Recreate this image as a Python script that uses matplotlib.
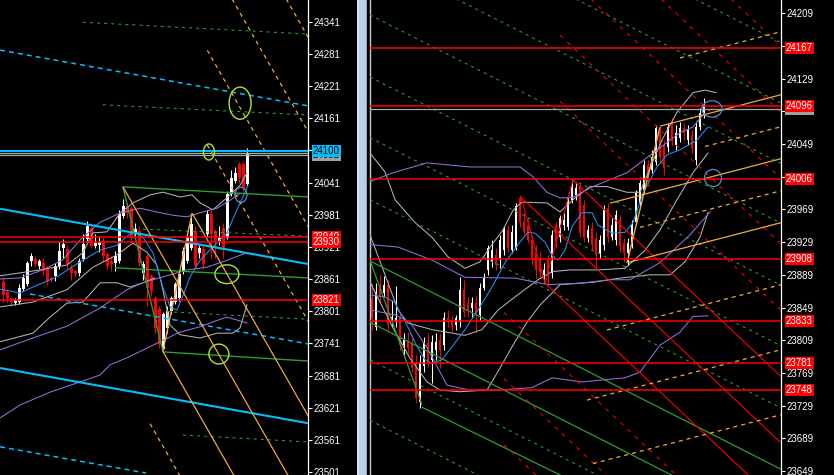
import numpy as np
import matplotlib
matplotlib.use("Agg")
import matplotlib.pyplot as plt
import matplotlib.transforms as mtransforms
from matplotlib.patches import Ellipse, Rectangle

plt.rcParams['font.family'] = ['Liberation Sans', 'DejaVu Sans']
plt.rcParams['lines.scale_dashes'] = False

# ======================= LEFT PANEL DATA =======================
left_open = [23855, 23836, 23825, 23817, 23819, 23842, 23851, 23894, 23898, 23885,
             23891, 23880, 23863, 23866, 23885, 23919, 23917, 23881, 23876, 23872,
             23898, 23936, 23956, 23923, 23924, 23932, 23908, 23894, 23891, 23894,
             23979, 23998, 23994, 23947, 23951, 23872, 23904, 23866, 23825, 23806,
             23731, 23769, 23801, 23819, 23825, 23876, 23894, 23919, 23951, 23909,
             23917, 23945, 23983, 23951, 23932, 23956, 23938, 24020, 24044, 24076,
             24076, 24039]
left_close = [23831, 23825, 23819, 23821, 23844, 23863, 23891, 23904, 23889, 23894,
              23876, 23857, 23859, 23885, 23913, 23926, 23889, 23872, 23870, 23894,
              23926, 23960, 23923, 23928, 23930, 23904, 23885, 23889, 23904, 23983,
              23998, 23984, 23938, 23955, 23891, 23889, 23844, 23838, 23769, 23739,
              23795, 23801, 23825, 23851, 23870, 23913, 23938, 23964, 23885, 23919,
              23889, 23983, 23945, 23932, 23938, 23919, 24020, 24050, 24058, 24050,
              24031, 24095]
left_high = [23865, 23843, 23827, 23825, 23851, 23870, 23894, 23909, 23904, 23898,
             23900, 23885, 23866, 23891, 23930, 23936, 23923, 23889, 23880, 23900,
             23945, 23970, 23965, 23945, 23940, 23940, 23912, 23904, 23913, 23990,
             24010, 24000, 23998, 23965, 23960, 23895, 23908, 23870, 23830, 23810,
             23800, 23810, 23830, 23855, 23875, 23920, 23945, 23983, 23960, 23925,
             23925, 23990, 23990, 23955, 23960, 23965, 24025, 24065, 24070, 24080,
             24080, 24106]
left_low = [23819, 23819, 23810, 23812, 23815, 23838, 23848, 23885, 23885, 23880,
            23866, 23850, 23855, 23857, 23880, 23900, 23880, 23860, 23866, 23866,
            23894, 23932, 23918, 23918, 23912, 23895, 23880, 23876, 23876, 23890,
            23975, 23975, 23930, 23935, 23885, 23860, 23810, 23830, 23760, 23733,
            23726, 23760, 23795, 23815, 23820, 23870, 23890, 23915, 23880, 23900,
            23880, 23940, 23900, 23900, 23925, 23900, 23935, 24015, 24040, 24040,
            24025, 24035]

left_ticks = [23501, 23561, 23621, 23681, 23741, 23801, 23861, 23921, 23981,
              24041, 24101, 24161, 24221, 24281, 24341]
left_cyan_level = 24100
left_gray_levels = [24096, 24092]
left_red_levels = [23940, 23930, 23821]

# indicator curves (bar index, price)
L_blue_i = [-0.8, 4.2, 7.4, 13.4, 19.2, 24.2, 28.4, 30.4, 32.4, 34.9, 37.4, 39.9, 41.7,
            43.4, 44.7, 46.7, 49.2, 52.4, 55.9, 58.4, 59.9, 61.2]
L_blue_p = [23842, 23835, 23846, 23865, 23893, 23915, 23924, 23937, 23949, 23939, 23910,
            23846, 23809, 23803, 23826, 23865, 23896, 23921, 23947, 23990, 24014, 24036]
L_purple1_i = [-0.8, 4.2, 9.9, 14.9, 19.2, 24.2, 29.2, 34.2, 38.4, 42.4, 45.9, 49.9, 53.4, 56.7, 59.2]
L_purple1_p = [23861, 23863, 23878, 23897, 23934, 23967, 23984, 23993, 23986, 23980, 23977,
               23986, 23993, 24008, 24021]
L_purple2_i = [-0.8, 7.4, 15.9, 24.2, 30.9, 34.9, 39.9, 45.9, 50.9, 55.9, 60.9]
L_purple2_p = [23729, 23751, 23773, 23807, 23841, 23854, 23865, 23878, 23883, 23896, 23910]
L_purple3_i = [-0.8, 4.2, 11.7, 19.2, 24.2, 26.7, 30.9, 35.9, 39.2, 44.2, 49.2, 52.4, 55.9, 60.9]
L_purple3_p = [23602, 23626, 23650, 23669, 23682, 23701, 23714, 23732, 23744, 23762, 23772,
               23781, 23790, 23779]
L_gray_up_i = [-0.8, 9.2, 15.9, 19.9, 22.4, 25.9, 29.2, 32.4, 36.7, 39.9, 44.2, 47.2, 49.2,
               52.4, 56.7, 59.2, 60.9]
L_gray_up_p = [23867, 23878, 23887, 23910, 23947, 23949, 23984, 24003, 24018, 24023, 24014,
               24018, 24003, 23990, 24018, 24036, 24059]
L_gray_lo_i = [-0.8, 7.4, 15.9, 22.4, 28.4, 32.4, 35.9, 38.4, 39.9, 41.7, 44.2, 49.2, 53.4,
               57.4, 59.2, 60.9]
L_gray_lo_p = [23809, 23818, 23841, 23883, 23906, 23928, 23911, 23887, 23841, 23775, 23757,
               23751, 23760, 23760, 23770, 23813]
L_gray_out_i = [-0.8, 7.4, 11.7, 15.9, 19.9, 24.2, 28.4, 31.7, 34.9, 37.9]
L_gray_out_p = [23744, 23760, 23790, 23816, 23818, 23854, 23854, 23846, 23854, 23863]

# trend objects: (i0, p0, i1, p1)
L_cyan_solid = [(-0.8, 23992, 76.2, 23889), (-0.8, 23695, 76.2, 23592)]
L_cyan_dash = [(-0.8, 24288, 76.2, 24184), (6.7, 23833, 76.2, 23740), (-0.8, 23548, 35.7, 23499)]
L_green_dash = [(19.9, 24340, 76.2, 24318), (24.9, 24186, 76.2, 24167),
                (34.9, 23954, 76.2, 23941), (40.9, 23800, 76.2, 23786),
                (44.9, 23570, 76.2, 23557)]
L_green_solid = [(29.9, 24033, 76.2, 24014), (27.9, 23882, 76.2, 23863),
                 (39.9, 23725, 76.2, 23708)]
# pitchfork pivots A (high), B (low), C (high)
pf_i = [29.9, 39.9, 47.2]
pf_p = [24033, 23726, 23984]
pf_solid_k = [-1, 0, 1]
pf_dash_k = [-2, 2, 3, 4, 5]
# ellipses (center i, center p, width bars, height price)
L_lime_ell = [(59.2, 24189, 5.5, 60), (51.4, 24098, 2.75, 30), (55.9, 23870, 6.0, 35),
              (53.9, 23721, 5.0, 37)]
L_blue_ell = [(59.4, 24018, 3.0, 28)]

# ======================= RIGHT PANEL DATA =======================
right_open = [23860, 23825, 23873, 23867, 23877, 23831, 23831, 23838, 23803, 23807,
              23806, 23782, 23733, 23777, 23806, 23785, 23797, 23809, 23803, 23836,
              23834, 23828, 23831, 23870, 23855, 23848, 23855, 23840, 23873, 23895,
              23905, 23913, 23910, 23919, 23944, 23919, 23922, 23983, 23954, 23950,
              23932, 23917, 23910, 23889, 23907, 23891, 23950, 23935, 23950, 23948,
              23981, 23987, 23997, 23974, 23934, 23946, 23934, 23916, 23926, 23971,
              23935, 23932, 23956, 23928, 23916, 23926, 23954, 23977, 23993, 24023,
              24017, 24027, 24064, 24048, 24045, 24075, 24048, 24056, 24069, 24054,
              24060, 24029, 24070, 24085]
right_close = [23836, 23868, 23862, 23877, 23828, 23838, 23836, 23803, 23809, 23800,
               23775, 23738, 23782, 23806, 23782, 23807, 23807, 23797, 23836, 23831,
               23825, 23836, 23870, 23844, 23846, 23855, 23842, 23873, 23885, 23922,
               23919, 23901, 23932, 23946, 23922, 23941, 23973, 23954, 23941, 23932,
               23910, 23895, 23893, 23895, 23888, 23938, 23929, 23959, 23956, 23983,
               23999, 23995, 23940, 23934, 23944, 23926, 23913, 23932, 23968, 23935,
               23950, 23962, 23923, 23916, 23928, 23950, 23989, 24001, 24023, 24008,
               24033, 24069, 24033, 24020, 24070, 24054, 24063, 24069, 24063, 24066,
               24044, 24070, 24087, 24096]
right_high = [23879, 23879, 23889, 23888, 23883, 23858, 23875, 23844, 23818, 23819,
              23815, 23791, 23791, 23813, 23818, 23815, 23818, 23818, 23844, 23846,
              23840, 23840, 23886, 23883, 23862, 23862, 23864, 23879, 23891, 23926,
              23932, 23922, 23938, 23949, 23950, 23950, 23977, 23987, 23965, 23958,
              23938, 23926, 23917, 23904, 23913, 23944, 23954, 23962, 23965, 23987,
              24005, 24003, 24001, 23981, 23950, 23954, 23941, 23938, 23975, 23977,
              23958, 23968, 23962, 23934, 23934, 23956, 23993, 24005, 24030, 24030,
              24042, 24072, 24069, 24054, 24075, 24081, 24072, 24076, 24075, 24072,
              24066, 24076, 24093, 24105]
right_low = [23822, 23822, 23855, 23862, 23822, 23825, 23825, 23797, 23789, 23793,
             23770, 23732, 23726, 23770, 23776, 23757, 23785, 23775, 23797, 23825,
             23819, 23822, 23825, 23838, 23838, 23838, 23819, 23834, 23870, 23889,
             23899, 23895, 23897, 23913, 23917, 23916, 23919, 23948, 23938, 23928,
             23901, 23885, 23886, 23879, 23877, 23885, 23922, 23929, 23944, 23944,
             23977, 23981, 23935, 23929, 23929, 23919, 23897, 23910, 23919, 23929,
             23932, 23926, 23917, 23905, 23901, 23922, 23950, 23973, 23989, 24003,
             24014, 24023, 24027, 24011, 24039, 24048, 24042, 24052, 24054, 24048,
             24038, 24023, 24066, 24081]

right_ticks = [23649, 23689, 23729, 23769, 23809, 23849, 23889, 23929, 23969,
               24009, 24049, 24089, 24129, 24169, 24209]
right_red_levels = [24167, 24096, 24006, 23908, 23833, 23781, 23748]
right_gray_level = 24092

R_blue_i = [0, 3.25, 5.75, 9, 10.75, 13.25, 15, 17.5, 20.75, 23.25, 26.5, 30, 33.25, 36.5,
            39, 40.75, 43.25, 45, 46.5, 48.25, 50, 52.5, 55, 56.5, 60, 63.25, 65.25, 67.75,
            71.25, 73.75, 77, 81.25, 84]
R_blue_p = [23864, 23862, 23855, 23825, 23806, 23785, 23781, 23785, 23806, 23822, 23846,
            23874, 23904, 23926, 23941, 23940, 23929, 23913, 23907, 23919, 23948, 23965,
            23965, 23950, 23940, 23941, 23953, 23989, 24021, 24036, 24042, 24054, 24070]
R_purple1_i = [-0.5, 5.25, 13.75, 24.5, 37, 40.25, 43.75, 47, 50.25, 55.25, 63.75, 70.25,
               77, 80.25, 82.75]
R_purple1_p = [24003, 24014, 24026, 24021, 24021, 24009, 23990, 23983, 23984, 23997, 24014,
               24038, 24063, 24070, 24085]
R_purple2_i = [-0.5, 6.5, 15, 23.25, 35.75, 44, 52.5, 59.5, 64.5, 72, 79.5, 84.5]
R_purple2_p = [23926, 23923, 23907, 23886, 23885, 23877, 23879, 23883, 23883, 23904, 23938, 23966]
R_purple3_i = [-0.5, 5.75, 9.5, 13.75, 18.75, 24.5, 31.5, 40, 45, 52.5, 63.25, 67, 72, 77,
               80.25, 84]
R_purple3_p = [23846, 23840, 23831, 23800, 23754, 23748, 23748, 23751, 23763, 23758, 23763,
               23770, 23803, 23819, 23838, 23839]
R_gray_up_i = [-0.5, 3.25, 5.75, 10.75, 15, 19, 23.25, 27, 30, 32.75, 35.25, 37.5, 43.75, 47,
               50.75, 54.5, 58.75, 63.75, 67, 69.5, 72.5, 76.25, 80.25, 83.25, 86]
R_gray_up_p = [24038, 24015, 23981, 23953, 23935, 23911, 23897, 23905, 23926, 23944, 23968,
               23978, 23977, 23966, 23983, 23997, 23997, 23990, 23990, 24020, 24054, 24088,
               24112, 24115, 24112]
R_gray_lo_i = [-0.5, 2.5, 6.5, 9, 15, 23.25, 27.5, 31.5, 35.75, 41.5, 45, 49.5, 56.5, 63.25,
               68.25, 72, 76.25, 80.25, 84]
R_gray_lo_p = [23938, 23899, 23846, 23830, 23822, 23815, 23822, 23846, 23862, 23883, 23893,
               23895, 23895, 23897, 23919, 23944, 23981, 24014, 24038]
R_gray_out_i = [-0.5, 5.25, 9.5, 13.75, 17, 22, 28.75, 32, 35.25, 38.75, 42, 45.25, 47, 55.25,
                62, 69.5, 74.5, 78.25, 82, 84]
R_gray_out_p = [23880, 23824, 23787, 23758, 23748, 23746, 23748, 23775, 23803, 23831, 23852,
                23868, 23877, 23880, 23885, 23889, 23889, 23905, 23935, 23965]

# green descending fan: price at left edge (i = -0.5), common slope per bar
green_fan_slope = -2.48
green_fan_dash_p0 = [24428, 24354, 24280, 24207, 24131, 24057, 23981, 23785, 23711]
green_fan_solid_p0 = [23906, 23831]
R_green_solid = [(-0.5, 23907, 12.5, 23730), (12.5, 23727, 60, 23613)]
# red descending channel: common slope per bar
red_slope = -4.625
red_anchor_i = [37.25, 50.25, 43.25]
red_anchor_p = [23984, 24005, 23879]
red_dash_upper_p0 = [24644, 24563, 24482, 24402, 24321]
red_dash_lower_p0 = [23998, 23917, 23836, 23756]
# orange ascending lines: price at right edge (i = 102) and start bar
orange_slope = 1.272
orange_solid = [(23952.5, 63.75), (24109.1, 72), (24030.8, 59.5)]
orange_dash = [(24186.2, 77), (24069.9, 83.25), (23991.6, 67), (23876.6, 58.75),
               (23797.1, 53.75), (23717.5, 55.25)]
orange_zig_i = [63.75, 72]
orange_zig_p = [23903.5, 24070]
R_blue_ell = [(85, 24092, 5.0, 20), (85.25, 24007.5, 4.25, 21)]

# ======================= STYLE =======================
RED = "#FF0000"; CYAN = "#00BFFF"; GREEN = "#2E9E2E"; LIME = "#A8E632"
ORANGE = "#F2A93B"; PURPLE = "#9370DB"; GRAY = "#B4B4B4"; BLUE = "#1E90FF"; STEEL = "#4F8FC8"
DOT_G = (0, (2.2, 2.9)); DOT_R = (0, (2.9, 4.3)); DOT_O = (0, (2.9, 2.9)); DOT_C = (0, (3.6, 2.9))
THIN = 0.75

W, H = 834, 475
fig = plt.figure(figsize=(W / 100, H / 100), dpi=100, facecolor="black")
axL = fig.add_axes([0, 0, 308 / W, 1])
axR = fig.add_axes([370 / W, 0, 411 / W, 1])

# divider bar between the two charts
fig.patches.append(Rectangle((357 / W, 0), 10 / W, 1, transform=fig.transFigure,
                             facecolor="#B9D1EA", edgecolor="none", zorder=0))
fig.patches.append(Rectangle((357 / W, 0), 1.5 / W, 1, transform=fig.transFigure,
                             facecolor="#DCE6F2", edgecolor="none", zorder=0))
fig.patches.append(Rectangle((366 / W, 0), 1 / W, 1, transform=fig.transFigure,
                             facecolor="#8DA4BC", edgecolor="none", zorder=0))


def setup(ax, xlim, ylim, ticks):
    ax.set_facecolor("black")
    ax.set_xlim(*xlim)
    ax.set_ylim(*ylim)
    ax.set_xticks([])
    ax.yaxis.tick_right()
    ax.set_yticks(ticks)
    ax.set_yticklabels([str(t) for t in ticks])
    ax.tick_params(axis='y', colors='white', labelcolor='white', length=3, width=0.8,
                   pad=1.2, labelsize=7)
    for s in ['top', 'bottom', 'left']:
        ax.spines[s].set_visible(False)
    ax.spines['right'].set_color('white')
    ax.spines['right'].set_linewidth(0.9)


def candles(ax, o, h, l, c, minh):
    o = np.array(o, float); h = np.array(h, float); l = np.array(l, float); c = np.array(c, float)
    x = np.arange(len(o))
    cols = np.where(c >= o, 'white', RED)
    ax.vlines(x, l, h, colors=cols, linewidth=0.75, zorder=2)
    bottoms = np.minimum(o, c)
    heights = np.maximum(np.abs(c - o), minh)
    ax.bar(x, heights, bottom=bottoms, width=0.72, color=cols, linewidth=0, zorder=2.1)


def seg(ax, i0, p0, i1, p1, color, lw=THIN, ls='-', z=4):
    ax.plot([i0, i1], [p0, p1], color=color, lw=lw, ls=ls, zorder=z, solid_capstyle='butt')


def curve(ax, xi, yp, color, lw=THIN, z=3):
    ax.plot(xi, yp, color=color, lw=lw, zorder=z)


def tag(ax, price, text, fc, tc, axw, z=10):
    tr = mtransforms.blended_transform_factory(ax.transAxes, ax.transData)
    ax.text(1 + 5.0 / axw, price, text, transform=tr, ha='left', va='center', fontsize=7,
            color=tc, zorder=z, clip_on=False,
            bbox=dict(boxstyle='square,pad=0.1', fc=fc, ec='none'))


# ======================= LEFT PANEL =======================
setup(axL, (-0.825, 76.175), (23495.4, 24381.5), left_ticks)
candles(axL, left_open, left_high, left_low, left_close, 1.6)

curve(axL, L_gray_up_i, L_gray_up_p, GRAY)
curve(axL, L_gray_lo_i, L_gray_lo_p, GRAY)
curve(axL, L_gray_out_i, L_gray_out_p, GRAY)
curve(axL, L_purple1_i, L_purple1_p, PURPLE)
curve(axL, L_purple2_i, L_purple2_p, PURPLE)
curve(axL, L_purple3_i, L_purple3_p, PURPLE)
curve(axL, L_blue_i, L_blue_p, BLUE)

for (a, b, c_, d) in L_cyan_solid:
    seg(axL, a, b, c_, d, CYAN, lw=1.5)
for (a, b, c_, d) in L_cyan_dash:
    seg(axL, a, b, c_, d, CYAN, lw=1.1, ls=DOT_C)
for (a, b, c_, d) in L_green_dash:
    seg(axL, a, b, c_, d, GREEN, ls=DOT_G)
for (a, b, c_, d) in L_green_solid:
    seg(axL, a, b, c_, d, GREEN, lw=1.0)
seg(axL, pf_i[0], pf_p[0], pf_i[1], pf_p[1], GREEN, lw=1.0)

# pitchfork
mid_i = (pf_i[1] + pf_i[2]) / 2
mid_p = (pf_p[1] + pf_p[2]) / 2
m = (mid_p - pf_p[0]) / (mid_i - pf_i[0])
off = pf_p[2] - (pf_p[0] + m * (pf_i[2] - pf_i[0]))
xr = 76.2
starts = {-1: pf_i[1], 0: pf_i[0], 1: pf_i[2]}
for k in pf_solid_k:
    s = starts[k]
    seg(axL, s, pf_p[0] + m * (s - pf_i[0]) + k * off, xr, pf_p[0] + m * (xr - pf_i[0]) + k * off,
        ORANGE, lw=0.9)
for k in pf_dash_k:
    s = 36.7 if k < 0 else 51.0
    seg(axL, s, pf_p[0] + m * (s - pf_i[0]) + k * off, xr, pf_p[0] + m * (xr - pf_i[0]) + k * off,
        ORANGE, lw=0.9, ls=DOT_O)
seg(axL, pf_i[1], pf_p[1], pf_i[2], pf_p[2], ORANGE, lw=1.0)

for (ci, cp, w, h) in L_lime_ell:
    axL.add_patch(Ellipse((ci, cp), w, h, fill=False, ec=LIME, lw=1.0, zorder=5))
for (ci, cp, w, h) in L_blue_ell:
    axL.add_patch(Ellipse((ci, cp), w, h, fill=False, ec=STEEL, lw=0.9, zorder=5))

for lv in left_gray_levels:
    axL.axhline(lv, color="#A8A8A8", lw=0.9, zorder=4)
axL.axhline(left_cyan_level, color=CYAN, lw=1.5, zorder=4)
for lv in left_red_levels:
    axL.axhline(lv, color=RED, lw=1.1, zorder=4)

axw_L = 308.0
tag(axL, left_gray_levels[1], str(left_gray_levels[1]), "#A0A0A0", "black", axw_L, z=9)
tag(axL, left_cyan_level, str(left_cyan_level), CYAN, "black", axw_L, z=10)
for lv in left_red_levels:
    tag(axL, lv, str(lv), RED, "white", axw_L, z=10)

# ======================= RIGHT PANEL =======================
setup(axR, (-0.5, 102.25), (23644.1, 24225.3), right_ticks)
axR.spines['left'].set_visible(True)
axR.spines['left'].set_color("#C8C8C8")
axR.spines['left'].set_linewidth(1.0)
candles(axR, right_open, right_high, right_low, right_close, 1.1)

curve(axR, R_gray_up_i, R_gray_up_p, GRAY)
curve(axR, R_gray_lo_i, R_gray_lo_p, GRAY)
curve(axR, R_gray_out_i, R_gray_out_p, GRAY)
curve(axR, R_purple1_i, R_purple1_p, PURPLE)
curve(axR, R_purple2_i, R_purple2_p, PURPLE)
curve(axR, R_purple3_i, R_purple3_p, PURPLE)
curve(axR, R_blue_i, R_blue_p, BLUE)

xl, xr = -0.5, 102.25
for p0 in green_fan_dash_p0:
    seg(axR, xl, p0, xr, p0 + green_fan_slope * (xr - xl), GREEN, ls=DOT_G)
for p0 in green_fan_solid_p0:
    seg(axR, xl, p0, xr, p0 + green_fan_slope * (xr - xl), GREEN, lw=0.9)
for (a, b, c_, d) in R_green_solid:
    seg(axR, a, b, c_, d, GREEN, lw=0.9)

for ai, ap in zip(red_anchor_i, red_anchor_p):
    seg(axR, ai, ap, xr, ap + red_slope * (xr - ai), RED, lw=0.8)
seg(axR, red_anchor_i[0], red_anchor_p[0], red_anchor_i[2], red_anchor_p[2], RED, lw=0.8)
seg(axR, red_anchor_i[2], red_anchor_p[2], red_anchor_i[1], red_anchor_p[1], RED, lw=0.8)
for p0 in red_dash_upper_p0:
    s = 47.0
    seg(axR, s, p0 + red_slope * (s - xl), xr, p0 + red_slope * (xr - xl), RED, ls=DOT_R)
for p0 in red_dash_lower_p0:
    s = 33.0
    seg(axR, s, p0 + red_slope * (s - xl), xr, p0 + red_slope * (xr - xl), RED, ls=DOT_R)

for (pe, s) in orange_solid:
    seg(axR, s, pe + orange_slope * (s - 102), xr, pe + orange_slope * (xr - 102), ORANGE, lw=0.9)
for (pe, s) in orange_dash:
    seg(axR, s, pe + orange_slope * (s - 102), xr, pe + orange_slope * (xr - 102), ORANGE, lw=0.9,
        ls=DOT_O)
seg(axR, orange_zig_i[0], orange_zig_p[0], orange_zig_i[1], orange_zig_p[1], ORANGE, lw=1.0)

for (ci, cp, w, h) in R_blue_ell:
    axR.add_patch(Ellipse((ci, cp), w, h, fill=False, ec=STEEL, lw=0.9, zorder=5))

axR.axhline(right_gray_level, color="#A8A8A8", lw=0.9, zorder=4)
for lv in right_red_levels:
    axR.axhline(lv, color=RED, lw=1.1, zorder=4)

axw_R = 411.0
tag(axR, right_gray_level, str(right_gray_level), "#A0A0A0", "black", axw_R, z=9)
for lv in right_red_levels:
    tag(axR, lv, str(lv), RED, "white", axw_R, z=10)

fig.savefig("out.png", dpi=100, facecolor="black")
